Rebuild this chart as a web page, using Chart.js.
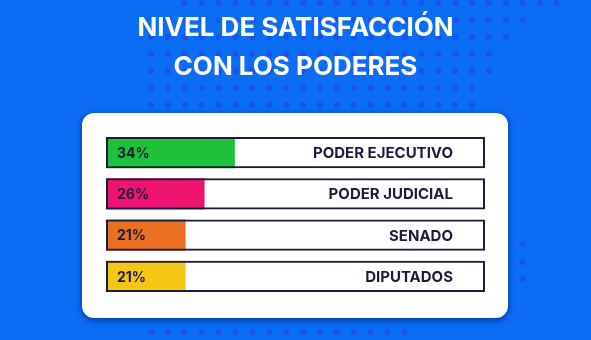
<!DOCTYPE html>
<html><head><meta charset="utf-8">
<script src="https://cdn.jsdelivr.net/npm/chart.js@4.4.1/dist/chart.umd.min.js"></script>
<style>html,body{margin:0;padding:0;background:#0b6cf4;overflow:hidden}#wrap{width:591px;height:340px;position:relative}</style>
</head><body><div id="wrap"><canvas id="c" width="591" height="340"></canvas></div>
<script>
const titleLines = ['NIVEL DE SATISFACCIÓN', 'CON LOS PODERES'];
const categories = ['PODER EJECUTIVO', 'PODER JUDICIAL', 'SENADO', 'DIPUTADOS'];
const values = [34, 26, 21, 21];
const valueLabels = ['34%', '26%', '21%', '21%'];
const barColors = ['#1dc13b', '#ee1470', '#ea7122', '#f4c714'];
const SCALE_MAX = 100;

const BLUE = '#0b6cf4';
const DOT = '#1b52ec';
const NAVY = '#1d1b3d';
const FONT = 'Inter, "Open Sans", sans-serif';

const bgPlugin = {
  id: 'bg',
  beforeDraw(chart) {
    const ctx = chart.ctx;
    ctx.save();
    ctx.fillStyle = BLUE;
    ctx.fillRect(0, 0, chart.width, chart.height);
    ctx.fillStyle = DOT;
    const gx = k => 151 + 16.9 * k;
    const rows = [[2, 24], [1, 22], [0, 21], [0, 20], [0, 20], [0, 19], [0, 19]];
    rows.forEach((r, i) => {
      const y = 3 + 17 * i;
      for (let k = r[0]; k <= r[1]; k++) { ctx.beginPath(); ctx.arc(gx(k), y, 3, 0, Math.PI * 2); ctx.fill(); }
    });
    for (let k = 0; k <= 15; k++) { ctx.beginPath(); ctx.arc(gx(k), 332, 3, 0, Math.PI * 2); ctx.fill(); }
    [244, 262, 279].forEach(y => { ctx.beginPath(); ctx.arc(gx(22), y, 3, 0, Math.PI * 2); ctx.fill(); });
    // card
    ctx.shadowColor = 'rgba(0,10,80,0.6)';
    ctx.shadowBlur = 6;
    ctx.shadowOffsetY = 2;
    ctx.fillStyle = '#ffffff';
    ctx.beginPath();
    ctx.roundRect(82, 113, 426, 205, 12);
    ctx.fill();
    ctx.restore();
  }
};

const labelPlugin = {
  id: 'labels',
  afterDatasetsDraw(chart) {
    const ctx = chart.ctx;
    const xs = chart.scales.x;
    const meta = chart.getDatasetMeta(0);
    ctx.save();
    ctx.fillStyle = NAVY;
    ctx.textBaseline = 'middle';
    meta.data.forEach((bar, i) => {
      ctx.font = '700 14px ' + FONT;
      ctx.textAlign = 'left';
      ctx.fillText(valueLabels[i], xs.left + 11, bar.y + 1);
      ctx.font = '700 15px ' + FONT;
      ctx.textAlign = 'right';
      ctx.fillText(categories[i], xs.right - 32, bar.y + 1);
    });
    ctx.restore();
  }
};

new Chart(document.getElementById('c'), {
  type: 'bar',
  data: {
    labels: categories,
    datasets: [
      {
        data: values,
        backgroundColor: barColors,
        borderWidth: 0,
        grouped: false,
        order: 2,
        categoryPercentage: 1,
        barPercentage: 0.76
      },
      {
        data: categories.map(() => SCALE_MAX),
        backgroundColor: 'rgba(0,0,0,0)',
        borderColor: NAVY,
        borderWidth: 2,
        borderSkipped: false,
        grouped: false,
        order: 1,
        categoryPercentage: 1,
        barPercentage: 0.76
      }
    ]
  },
  options: {
    indexAxis: 'y',
    responsive: false,
    animation: false,
    devicePixelRatio: 1,
    layout: { padding: { left: 106, right: 106, top: 0, bottom: 43 } },
    scales: {
      x: { display: false, min: 0, max: SCALE_MAX },
      y: { display: false }
    },
    plugins: {
      legend: { display: false },
      tooltip: { enabled: false },
      title: {
        display: true,
        text: titleLines,
        color: '#ffffff',
        font: { family: FONT, weight: '700', size: 26, lineHeight: 1.5 },
        padding: { top: 9, bottom: 45 }
      }
    }
  },
  plugins: [bgPlugin, labelPlugin]
});
</script>
</body></html>
